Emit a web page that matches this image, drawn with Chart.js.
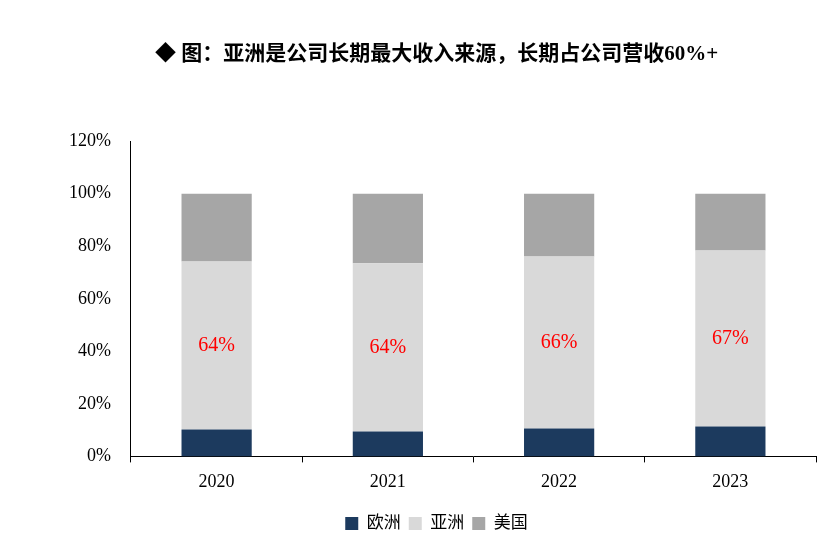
<!DOCTYPE html>
<html><head><meta charset="utf-8">
<script src="https://cdn.jsdelivr.net/npm/chart.js@4"></script>
<style>body{margin:0;background:#fff}#wrap{width:826px;height:542px}</style>
</head><body><div id="wrap"><canvas id="c"></canvas></div>
<script>
// data
const years = ['2020', '2021', '2022', '2023'];
const europe = [10.2, 9.5, 10.6, 11.4];
const asia = [64, 64, 65.5, 67];
const america = [25.8, 26.5, 23.9, 21.6];
const asiaLabels = ['64%', '64%', '66%', '67%'];

const serif = '"Liberation Serif", "Noto Sans CJK SC", serif';

// red labels in the middle of the Asia bars
const asiaLabelPlugin = {
    id: 'asiaLabel',
    afterDatasetsDraw(chart) {
        const ctx = chart.ctx;
        const meta = chart.getDatasetMeta(1);
        ctx.save();
        ctx.fillStyle = '#ff0000';
        ctx.font = '20px ' + serif;
        ctx.textAlign = 'center';
        ctx.textBaseline = 'middle';
        meta.data.forEach((bar, i) => {
            ctx.fillText(asiaLabels[i], bar.x, (bar.y + bar.base) / 2);
        });
        ctx.restore();
    }
};

new Chart(document.getElementById('c'), {
    type: 'bar',
    data: {
        labels: years,
        datasets: [
            { label: '欧洲', data: europe, backgroundColor: '#1c3a5e' },
            { label: '亚洲', data: asia, backgroundColor: '#d9d9d9' },
            { label: '美国', data: america, backgroundColor: '#a6a6a6' }
        ]
    },
    options: {
        responsive: true,
        maintainAspectRatio: false,
        animation: false,
        layout: { padding: { left: 57, right: 10, top: 0, bottom: 0 } },
        datasets: { bar: { categoryPercentage: 1, barPercentage: 0.41 } },
        plugins: {
            title: {
                display: true,
                text: '◆ 图：亚洲是公司长期最大收入来源，长期占公司营收60%+',
                color: '#000',
                font: { family: serif, size: 21, weight: 'bold' },
                padding: { top: 42, bottom: 74 }
            },
            legend: {
                position: 'bottom',
                labels: {
                    color: '#000',
                    font: { family: serif, size: 17 },
                    boxWidth: 13, boxHeight: 13, padding: 8
                }
            },
            tooltip: { enabled: false }
        },
        scales: {
            x: {
                stacked: true,
                grid: { display: true, drawOnChartArea: false, offset: true, tickLength: 6, color: '#000' },
                border: { color: '#000' },
                ticks: { color: '#000', font: { family: serif, size: 18 }, padding: 9 },
                afterFit: s => { s.height += 5; }
            },
            y: {
                stacked: true,
                min: 0, max: 120,
                grid: { display: false },
                border: { color: '#000' },
                ticks: {
                    stepSize: 20, color: '#000', padding: 12,
                    font: { family: serif, size: 18 },
                    callback: v => v + '%'
                }
            }
        }
    },
    plugins: [asiaLabelPlugin]
});
</script></body></html>
